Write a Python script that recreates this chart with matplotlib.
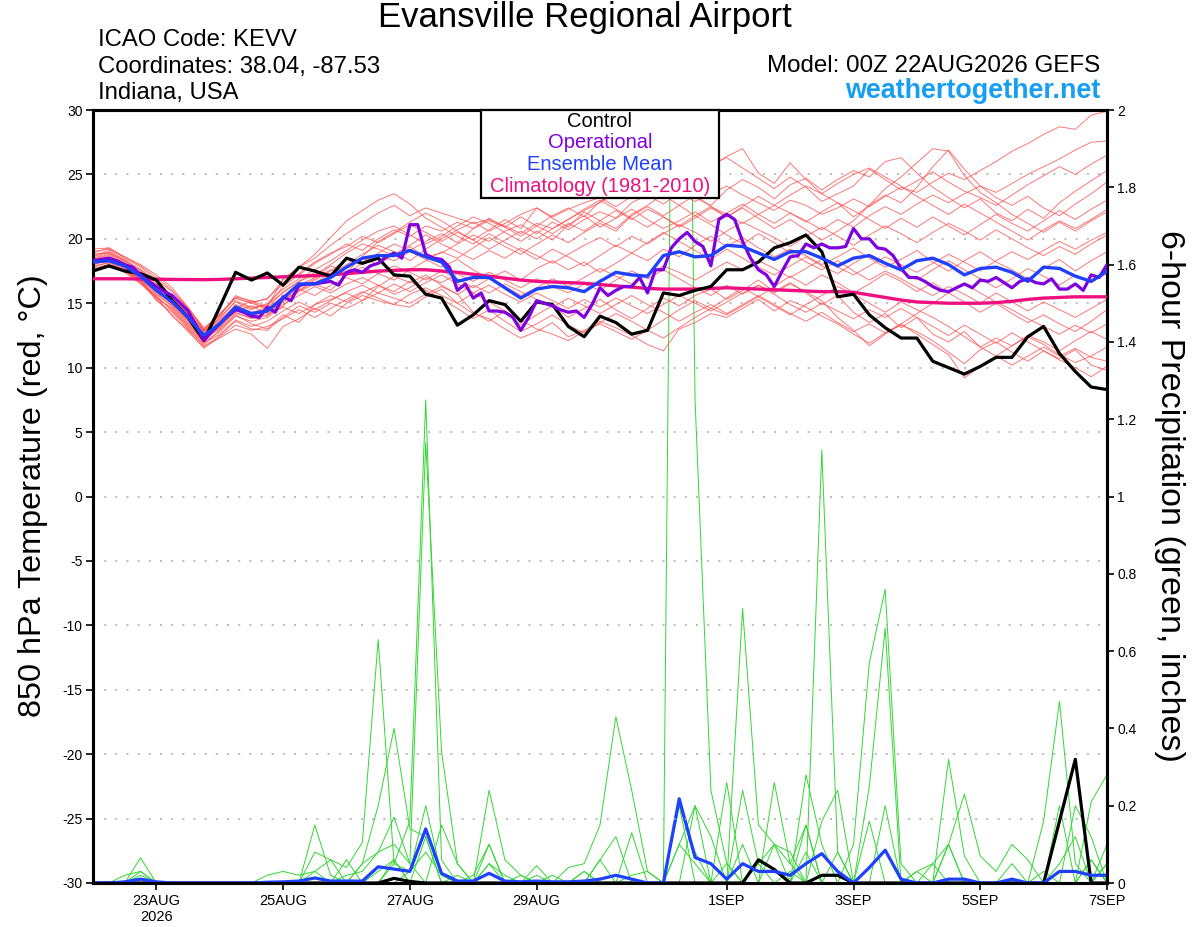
import matplotlib
matplotlib.use("Agg")
import matplotlib.pyplot as plt
from matplotlib.patches import Rectangle

plt.rcParams['font.family'] = ['Liberation Sans', 'DejaVu Sans']

# ---------------- data ----------------
HOURS_6H = list(range(0, 385, 6))     # forecast hour of each 6-hourly value
HOURS_3H = list(range(0, 385, 3))     # forecast hour of each 3-hourly value (operational)

TICK_HOURS = [24, 72, 120, 168, 240, 288, 336, 384]
TICK_LABELS = ["23AUG\n2026", "25AUG", "27AUG", "29AUG", "1SEP", "3SEP", "5SEP", "7SEP"]
TEMP_TICKS = [-30, -25, -20, -15, -10, -5, 0, 5, 10, 15, 20, 25, 30]
PCP_TICKS = [0, 0.2, 0.4, 0.6, 0.8, 1.0, 1.2, 1.4, 1.6, 1.8, 2.0]
PCP_TICK_LABELS = ["0", "0.2", "0.4", "0.6", "0.8", "1", "1.2", "1.4", "1.6", "1.8", "2"]

CONTROL_T = [17.5, 17.9, 17.5, 17.3, 16.8, 15.2, 13.9, 12.1, 14.7, 17.4, 16.8, 17.35, 16.4,
             17.8, 17.5, 17.1, 18.5, 18.1, 18.5, 17.2, 17.1, 15.7, 15.4, 13.3, 14.1, 15.2,
             14.9, 13.6, 15.1, 14.9, 13.2, 12.4, 14.0, 13.5, 12.6, 12.9, 15.8, 15.6, 16.0,
             16.3, 17.6, 17.6, 18.2, 19.3, 19.7, 20.3, 19.0, 15.5, 15.7, 14.1, 13.1, 12.3,
             12.3, 10.5, 10.0, 9.5, 10.1, 10.8, 10.8, 12.4, 13.2, 11.1, 9.7, 8.5, 8.3]

MEAN_T = [18.2, 18.3, 17.9, 17.1, 16.0, 15.1, 13.9, 12.5, 13.4, 14.7, 14.2, 14.4, 15.4,
          16.5, 16.5, 17.0, 17.8, 18.5, 18.7, 18.7, 19.1, 18.6, 18.2, 16.7, 17.0, 17.0,
          16.2, 15.4, 16.1, 16.3, 16.2, 15.9, 16.7, 17.4, 17.2, 17.1, 18.7, 19.0, 18.6,
          18.7, 19.5, 19.4, 18.9, 18.4, 19.0, 19.0, 18.5, 17.9, 18.5, 18.7, 18.1, 17.6,
          18.3, 18.5, 18.0, 17.2, 17.7, 17.8, 17.4, 16.7, 17.8, 17.7, 17.1, 16.7, 17.5]

CLIMO_T = [16.9, 16.9, 16.9, 16.88, 16.87, 16.85, 16.84, 16.83, 16.85, 16.9, 16.95, 17.0, 17.05,
           17.1, 17.15, 17.2, 17.3, 17.4, 17.5, 17.55, 17.6, 17.6, 17.5, 17.4, 17.25, 17.1,
           16.95, 16.8, 16.7, 16.65, 16.6, 16.55, 16.45, 16.35, 16.25, 16.15, 16.1, 16.1, 16.1,
           16.15, 16.2, 16.15, 16.1, 16.05, 16.0, 15.95, 15.9, 15.9, 15.85, 15.65, 15.45, 15.25,
           15.1, 15.05, 15.0, 15.0, 15.0, 15.05, 15.15, 15.3, 15.4, 15.45, 15.5, 15.5, 15.5]

OPER_T = [18.3, 18.4, 18.5, 18.3, 18.0, 17.8, 17.2, 16.7, 16.3, 15.9,
          15.6, 15.0, 14.4, 13.3, 12.1, 12.8, 13.4, 14.0, 14.5, 14.3,
          14.0, 13.9, 14.7, 14.3, 15.5, 15.2, 16.4, 16.5, 16.5, 16.6,
          16.7, 16.4, 17.4, 17.6, 17.4, 17.9, 18.1, 18.6, 18.9, 18.5,
          21.1, 21.1, 18.8, 18.5, 18.4, 17.8, 16.0, 16.5, 15.4, 15.8,
          14.4, 14.4, 14.3, 13.9, 12.9, 13.9, 15.2, 15.0, 14.8, 14.5,
          14.3, 14.4, 13.9, 14.9, 16.2, 15.6, 16.0, 16.3, 16.3, 17.0,
          15.8, 17.6, 17.6, 19.3, 20.0, 20.5, 19.8, 19.4, 17.9, 21.5,
          21.9, 21.5, 19.8, 18.5, 17.6, 17.2, 16.3, 17.5, 18.6, 18.7,
          19.6, 19.3, 19.6, 19.3, 19.3, 19.4, 20.8, 20.0, 20.0, 19.3,
          19.2, 18.7, 17.7, 17.0, 17.0, 16.7, 16.3, 16.0, 15.9, 16.2,
          16.5, 16.2, 16.8, 16.7, 17.0, 16.6, 16.2, 16.7, 16.9, 16.6,
          16.5, 16.9, 16.1, 16.1, 16.5, 16.0, 17.2, 17.0, 18.0]

# ensemble member 850 hPa temperatures
TEMP_M01 = [18.6, 19.0, 18.3, 17.6, 16.5, 15.4, 14.2, 12.8, 13.9, 15.1, 14.6, 14.9,
            15.8, 16.7, 17.2, 18.0, 18.9, 19.6, 19.2, 18.7, 19.4, 18.6,
            18.9, 19.6, 20.3, 19.8, 20.6, 21.1, 20.4, 21.3, 20.7, 21.5,
            22.1, 21.6, 22.8, 23.4, 22.7, 23.6, 22.9, 23.5, 24.1, 23.4, 22.8,
            22.2, 23.0, 22.6, 21.9, 22.4, 23.1, 22.5, 23.3, 24.0, 23.6, 24.4,
            25.1, 24.6, 25.3, 26.0, 26.8, 27.4, 28.1, 28.7, 28.5, 29.6, 29.9]
TEMP_M02 = [18.0, 18.4, 17.8, 16.9, 15.7, 14.8, 13.5, 12.2, 13.0, 14.2, 13.9, 14.3,
            15.2, 16.0, 16.8, 17.5, 18.4, 18.0, 18.9, 19.6, 19.1, 19.8,
            20.4, 19.7, 20.8, 21.4, 20.9, 20.2, 21.0, 21.8, 22.4, 21.7,
            22.9, 23.6, 25.0, 26.3, 27.0, 25.8, 24.9, 25.6, 26.4, 27.0, 25.1,
            24.3, 25.9, 24.6, 23.5, 22.8, 21.7, 22.6, 23.4, 22.8, 24.0, 25.6,
            26.9, 25.4, 24.1, 23.2, 22.6, 23.3, 22.4, 21.8, 22.7, 23.5, 24.4]
TEMP_M03 = [18.9, 19.3, 18.5, 17.8, 16.8, 15.9, 14.6, 12.9, 14.1, 15.4, 15.0, 14.6,
            15.5, 16.4, 17.0, 17.9, 17.4, 18.6, 19.8, 20.5, 21.3, 22.0,
            21.4, 20.6, 19.9, 20.7, 21.5, 20.8, 22.4, 21.6, 20.9, 22.1,
            21.4, 20.8, 21.9, 22.6, 23.5, 24.3, 23.2, 22.6, 23.8, 24.6, 24.0,
            23.1, 24.2, 24.7, 23.8, 24.6, 25.3, 24.8, 26.0, 26.3, 25.1, 24.0,
            23.2, 22.4, 23.1, 22.0, 21.4, 22.3, 21.6, 22.8, 23.7, 24.5, 25.3]
TEMP_M04 = [17.6, 17.9, 17.5, 16.7, 15.3, 14.1, 12.8, 11.6, 12.3, 13.0, 12.6, 11.5,
            13.2, 13.8, 14.6, 14.0, 15.0, 15.6, 15.2, 14.9, 14.7, 15.5,
            16.1, 15.0, 14.2, 13.8, 13.0, 12.3, 12.8, 13.5, 12.4, 12.9,
            13.6, 13.1, 12.5, 11.8, 11.3, 13.0, 13.5, 14.2, 13.9, 14.6, 15.3,
            14.4, 15.2, 14.7, 14.0, 13.4, 12.6, 11.9, 12.7, 13.3, 12.8, 12.1,
            11.2, 10.3, 11.4, 12.0, 11.2, 10.5, 11.3, 10.6, 10.0, 9.3, 10.1]
TEMP_M05 = [18.1, 18.5, 17.9, 16.8, 15.2, 14.3, 13.0, 11.8, 12.9, 14.1, 13.4, 13.0,
            14.1, 13.5, 14.9, 15.3, 15.8, 15.2, 16.3, 17.1, 16.6, 17.2,
            16.4, 15.7, 14.3, 13.6, 14.4, 13.3, 14.1, 14.8, 13.9, 14.6,
            15.3, 14.5, 13.8, 14.6, 15.4, 14.8, 15.6, 16.1, 15.3, 16.0, 16.8,
            15.9, 16.6, 15.8, 14.9, 15.6, 14.3, 13.5, 14.2, 13.1, 13.9, 12.6,
            12.0, 12.8, 11.6, 12.3, 11.7, 12.4, 11.8, 11.0, 10.4, 10.9, 11.6]
TEMP_M06 = [18.4, 18.8, 18.1, 17.4, 16.2, 15.0, 13.8, 12.6, 13.5, 14.6, 14.0, 14.5,
            15.6, 16.2, 16.9, 17.6, 17.1, 18.2, 18.7, 18.3, 19.0, 18.4,
            17.8, 18.4, 17.6, 16.9, 17.5, 16.8, 17.7, 18.3, 17.6, 18.2,
            17.4, 18.1, 18.9, 18.3, 19.2, 18.6, 19.5, 20.2, 19.4, 20.1, 19.3,
            18.6, 19.2, 18.7, 18.0, 18.6, 19.3, 18.5, 17.8, 18.4, 19.1, 18.2,
            17.5, 18.3, 19.0, 18.2, 17.6, 16.9, 17.7, 18.4, 17.5, 18.3, 19.0]
TEMP_M07 = [18.3, 18.6, 18.0, 17.2, 16.1, 15.2, 14.0, 12.7, 13.6, 14.9, 14.5, 15.0,
            16.1, 16.9, 17.6, 18.3, 19.1, 19.9, 20.6, 21.0, 20.3, 19.6,
            20.2, 21.0, 21.7, 21.2, 20.5, 19.8, 20.6, 19.9, 21.1, 21.8,
            20.9, 21.6, 22.3, 21.5, 20.8, 21.4, 22.1, 21.3, 22.0, 22.7, 21.9,
            21.2, 22.0, 21.4, 20.7, 21.5, 20.9, 21.8, 22.5, 21.9, 22.7, 23.4,
            22.8, 23.5, 24.1, 23.6, 24.3, 25.0, 25.6, 26.2, 26.9, 27.5, 27.6]
TEMP_M08 = [17.8, 18.2, 17.6, 16.6, 15.5, 14.5, 13.3, 12.0, 12.8, 14.0, 13.6, 13.9,
            14.8, 15.9, 16.5, 16.0, 17.2, 17.8, 17.3, 16.8, 17.6, 18.3,
            19.0, 18.5, 19.3, 20.1, 19.4, 18.8, 19.6, 20.3, 19.7, 20.5,
            21.2, 20.6, 21.8, 22.5, 21.8, 22.6, 23.4, 22.5, 21.7, 22.4, 21.6,
            20.8, 21.5, 20.7, 19.9, 20.6, 21.4, 22.6, 23.9, 24.8, 25.9, 27.0,
            26.8, 24.9, 23.6, 22.8, 21.9, 21.2, 20.5, 21.3, 20.6, 21.4, 22.1]
TEMP_M09 = [17.9, 18.1, 17.6, 16.9, 15.9, 14.9, 13.6, 12.3, 13.1, 14.4, 14.8, 14.2,
            14.9, 15.6, 16.3, 15.8, 16.5, 17.0, 16.4, 15.9, 16.7, 16.0,
            15.3, 14.6, 13.8, 14.5, 13.6, 12.8, 13.4, 14.1, 13.3, 12.7,
            13.5, 14.2, 13.6, 12.9, 13.7, 14.5, 15.2, 14.6, 15.4, 16.2, 15.5,
            16.3, 17.1, 16.4, 17.2, 16.6, 15.8, 16.5, 17.3, 16.7, 15.9, 16.6,
            15.8, 15.1, 14.3, 15.0, 14.2, 13.5, 14.1, 13.4, 12.8, 13.6, 14.5]
TEMP_M10 = [18.7, 19.1, 18.4, 17.5, 16.4, 15.3, 14.1, 12.9, 13.8, 15.2, 14.7, 14.8,
            16.3, 17.2, 18.1, 18.8, 19.6, 19.1, 20.0, 20.7, 20.2, 21.0,
            20.6, 21.3, 20.8, 21.6, 20.9, 21.7, 21.0, 20.4, 21.2, 20.6,
            21.4, 22.2, 21.5, 22.3, 21.7, 21.0, 21.8, 22.5, 21.9, 21.2, 21.9,
            22.6, 22.0, 21.3, 22.1, 22.8, 22.2, 21.5, 20.8, 21.6, 20.9, 21.7,
            21.0, 20.3, 21.1, 21.9, 21.2, 20.6, 21.4, 22.2, 21.5, 22.3, 23.0]
TEMP_M11 = [17.7, 18.0, 17.4, 16.5, 15.4, 14.6, 13.2, 11.9, 12.6, 13.7, 13.2, 13.6,
            14.4, 15.1, 14.5, 15.2, 15.9, 16.4, 15.8, 16.5, 15.9, 16.6,
            17.2, 16.5, 15.8, 16.4, 15.7, 15.1, 15.8, 15.2, 14.6, 15.3,
            14.7, 15.4, 14.8, 14.2, 14.9, 15.6, 15.0, 14.4, 15.1, 15.8, 16.4,
            15.7, 14.9, 14.3, 15.0, 14.4, 13.8, 14.5, 13.9, 14.6, 13.9, 13.2,
            12.5, 13.3, 12.6, 11.9, 12.7, 12.0, 11.3, 10.7, 11.4, 10.2, 9.8]
TEMP_M12 = [18.5, 18.9, 18.2, 17.3, 16.0, 15.0, 13.7, 12.4, 13.3, 14.6, 15.2, 14.4,
            15.1, 16.0, 16.6, 17.3, 18.0, 18.8, 19.5, 19.0, 18.3, 19.2,
            20.0, 20.7, 21.3, 20.6, 21.2, 21.9, 22.4, 21.7, 22.3, 22.8,
            23.2, 22.5, 23.3, 24.1, 23.4, 22.6, 21.8, 21.1, 20.3, 19.6, 20.4,
            19.7, 18.9, 18.2, 17.6, 18.3, 17.5, 16.8, 17.5, 16.9, 16.2, 15.6,
            16.3, 15.7, 15.0, 15.8, 15.1, 14.4, 15.1, 14.5, 13.9, 14.6, 15.3]
TEMP_M13 = [18.2, 18.5, 17.7, 16.8, 15.8, 14.7, 13.4, 12.1, 13.2, 14.5, 14.1, 14.0,
            15.3, 16.1, 15.6, 16.4, 17.0, 16.5, 17.3, 17.9, 17.4, 16.8,
            17.5, 16.9, 16.2, 16.9, 16.3, 15.6, 16.2, 16.9, 16.3, 17.0,
            17.7, 17.1, 16.5, 17.2, 17.9, 17.4, 16.8, 17.5, 18.2, 17.6, 18.3,
            17.7, 17.0, 17.7, 18.4, 17.8, 17.2, 17.9, 18.6, 18.0, 17.4, 18.1,
            18.8, 18.2, 17.5, 18.3, 19.0, 18.4, 19.1, 19.8, 19.2, 19.9, 20.5]
TEMP_M14 = [19.2, 19.3, 18.6, 18.0, 17.2, 16.2, 14.7, 13.0, 14.0, 15.6, 15.1, 15.3,
            16.8, 17.8, 18.5, 19.5, 20.4, 21.2, 22.0, 22.6, 21.8, 22.4,
            22.0, 21.6, 21.2, 21.5, 21.0, 20.4, 21.2, 20.8, 21.5, 22.2,
            22.8, 23.6, 24.5, 25.6, 26.4, 25.9, 26.6, 25.8, 26.3, 25.5, 24.7,
            23.9, 24.8, 24.0, 22.9, 23.5, 24.1, 25.4, 24.6, 23.8, 24.5, 25.2,
            24.4, 23.7, 23.2, 22.6, 23.4, 24.2, 24.9, 25.6, 25.0, 25.8, 26.5]
TEMP_M15 = [18.0, 18.3, 17.7, 17.0, 16.1, 14.9, 13.9, 12.6, 13.4, 14.3, 13.8, 14.1,
            14.7, 14.2, 14.9, 15.6, 15.1, 15.8, 16.4, 15.7, 16.2, 17.0,
            16.6, 17.3, 16.7, 17.4, 16.8, 16.2, 16.9, 16.3, 15.8, 16.5,
            16.0, 16.8, 17.5, 16.9, 17.6, 16.9, 16.2, 15.6, 16.4, 15.7, 16.4,
            15.8, 16.5, 15.9, 15.2, 13.9, 12.9, 11.7, 12.6, 13.4, 14.2, 15.0,
            15.8, 16.5, 15.8, 15.1, 14.5, 13.8, 13.2, 12.6, 13.3, 12.7, 13.4]
TEMP_M16 = [18.8, 18.9, 18.3, 17.6, 16.7, 15.6, 14.4, 12.9, 14.2, 15.4, 15.0, 15.4,
            16.5, 17.3, 18.2, 18.9, 19.4, 20.2, 19.7, 20.4, 21.1, 20.5,
            19.8, 20.5, 19.9, 19.2, 19.9, 20.6, 20.0, 20.8, 21.5, 22.3,
            23.0, 22.3, 21.6, 20.9, 21.7, 20.9, 21.6, 22.4, 21.7, 22.5, 23.3,
            22.6, 23.4, 24.1, 23.5, 24.3, 25.0, 25.5, 24.8, 24.1, 23.3, 22.6,
            21.9, 22.7, 22.0, 21.3, 20.6, 19.9, 20.7, 21.4, 20.8, 21.5, 22.3]
TEMP_M17 = [17.5, 17.8, 17.5, 16.6, 15.6, 14.4, 13.1, 11.7, 12.4, 13.3, 12.9, 13.2,
            13.8, 14.5, 13.9, 14.6, 15.3, 15.9, 15.4, 14.9, 15.7, 16.2,
            15.6, 15.0, 15.8, 15.1, 14.4, 13.7, 13.0, 12.6, 12.1, 12.8,
            13.4, 12.8, 12.2, 12.9, 12.3, 13.1, 13.9, 14.6, 14.1, 14.8, 15.5,
            14.8, 14.1, 14.9, 15.6, 16.3, 15.7, 15.0, 14.3, 15.1, 14.5, 13.9,
            13.2, 12.4, 11.6, 10.9, 11.7, 12.5, 12.0, 11.3, 12.1, 12.8, 12.2]
TEMP_M18 = [18.4, 18.7, 18.0, 17.1, 16.3, 15.3, 14.2, 12.8, 13.7, 14.8, 14.3, 14.6,
            15.9, 16.7, 17.4, 16.9, 17.8, 18.5, 18.0, 18.8, 19.5, 20.3,
            19.6, 19.0, 18.4, 19.1, 18.5, 19.3, 18.7, 18.1, 18.8, 19.5,
            20.1, 19.4, 20.2, 19.6, 20.4, 21.1, 20.5, 19.8, 20.6, 21.3, 20.7,
            20.1, 19.4, 20.2, 20.9, 20.2, 19.5, 20.3, 21.0, 20.4, 19.7, 20.5,
            21.2, 20.6, 19.9, 20.7, 20.0, 19.3, 18.7, 19.4, 18.8, 19.6, 20.3]
TEMP_M19 = [19.0, 19.2, 18.6, 17.9, 17.0, 16.0, 14.6, 13.1, 14.1, 15.5, 15.2, 14.7,
            16.9, 17.8, 18.8, 20.1, 21.4, 22.2, 23.0, 23.5, 22.7, 21.6,
            20.9, 20.2, 19.6, 20.4, 19.7, 19.1, 18.4, 19.2, 18.6, 17.9,
            18.7, 19.5, 18.9, 19.7, 20.5, 19.8, 19.1, 18.4, 19.2, 18.5, 17.8,
            17.2, 17.9, 18.6, 17.9, 17.3, 18.1, 18.8, 18.2, 17.5, 16.8, 17.6,
            18.3, 17.6, 16.9, 16.2, 16.9, 17.7, 17.1, 16.4, 17.2, 16.6, 17.3]
TEMP_M20 = [17.6, 18.0, 17.6, 16.8, 15.5, 14.0, 12.9, 11.5, 12.5, 13.6, 13.0, 12.9,
            13.9, 14.8, 14.3, 15.0, 14.6, 15.2, 15.8, 15.4, 15.0, 15.7,
            16.3, 15.7, 16.4, 15.8, 16.5, 15.9, 15.3, 14.7, 15.4, 14.8,
            14.2, 14.9, 15.6, 14.9, 14.3, 13.6, 14.3, 14.9, 14.2, 14.9, 15.6,
            14.9, 14.2, 13.6, 14.3, 13.5, 12.8, 13.4, 12.7, 13.4, 12.6, 11.8,
            11.0, 9.2, 10.1, 10.9, 10.2, 10.9, 11.6, 10.9, 11.5, 10.8, 10.5]

# 6-hour precipitation (inches)
CONTROL_P = [0, 0, 0, 0, 0, 0, 0, 0, 0, 0, 0, 0, 0,
             0, 0, 0, 0, 0, 0, 0.012, 0.004, 0, 0, 0, 0, 0,
             0, 0, 0, 0, 0, 0, 0, 0, 0, 0, 0, 0, 0,
             0, 0, 0, 0.06, 0.035, 0, 0, 0.02, 0.02, 0, 0, 0, 0,
             0, 0, 0, 0, 0, 0, 0, 0, 0, 0.16, 0.32, 0, 0]
MEAN_P = [0, 0, 0.003, 0.01, 0.003, 0, 0, 0, 0, 0, 0, 0.002, 0.003,
          0.005, 0.013, 0.005, 0.005, 0.005, 0.042, 0.036, 0.03, 0.14, 0.025, 0.005, 0.005, 0.025,
          0.005, 0.003, 0.005, 0.003, 0.003, 0.005, 0.01, 0.02, 0.01, 0, 0, 0.218, 0.066,
          0.05, 0.01, 0.05, 0.03, 0.03, 0.02, 0.05, 0.076, 0.03, 0, 0.04, 0.085, 0.01,
          0, 0, 0.01, 0.01, 0, 0, 0.01, 0, 0, 0.03, 0.03, 0.02, 0.02]

PCP_M01 = [0, 0, 0, 0, 0, 0, 0, 0, 0, 0, 0, 0, 0,
           0, 0, 0, 0, 0, 0, 0, 0.03, 0.08, 0.02, 0, 0, 0,
           0, 0, 0, 0, 0, 0, 0, 0, 0.02, 0.03, 0, 4.3, 1.25,
           0.24, 0.05, 0, 0, 0, 0, 0, 0, 0, 0, 0, 0, 0,
           0, 0, 0, 0, 0, 0, 0, 0, 0, 0, 0, 0, 0]
PCP_M02 = [0, 0, 0, 0.02, 0, 0, 0, 0, 0, 0, 0, 0, 0,
           0, 0, 0, 0, 0, 0, 0.05, 0.16, 1.25, 0.06, 0, 0, 0,
           0, 0, 0, 0, 0, 0, 0.06, 0.12, 0, 0, 0, 0.1, 0.05,
           0, 0, 0.24, 0.05, 0, 0, 0, 0, 0, 0, 0, 0, 0,
           0, 0, 0.1, 0, 0, 0, 0, 0, 0, 0, 0, 0, 0]
PCP_M03 = [0, 0, 0, 0, 0, 0, 0, 0, 0, 0, 0, 0, 0,
           0, 0, 0, 0.02, 0.03, 0.08, 0.1, 0.05, 1.14, 0.34, 0.05, 0, 0,
           0, 0, 0, 0, 0, 0.03, 0, 0, 0, 0, 0, 0, 0.2,
           0.12, 0, 0, 0, 0.26, 0.05, 0, 0, 0, 0, 0, 0, 0,
           0, 0, 0, 0, 0, 0, 0, 0, 0, 0, 0, 0, 0.05]
PCP_M04 = [0, 0, 0, 0, 0, 0, 0, 0, 0, 0, 0, 0, 0,
           0, 0.03, 0.06, 0.04, 0.105, 0.63, 0.05, 0.03, 0.2, 0.02, 0, 0, 0,
           0, 0, 0.045, 0, 0, 0, 0, 0, 0, 0, 0, 0, 0,
           0, 0, 0, 0, 0, 0, 0.28, 0.1, 0, 0, 0, 0, 0,
           0, 0, 0, 0, 0, 0, 0, 0, 0, 0, 0, 0.06, 0]
PCP_M05 = [0, 0, 0, 0, 0, 0, 0, 0, 0, 0, 0, 0, 0,
           0, 0, 0, 0, 0.05, 0.2, 0.4, 0.14, 0.12, 0, 0, 0, 0.05,
           0.02, 0, 0, 0, 0, 0, 0, 0, 0.13, 0, 0, 0, 0,
           0, 0, 0.1, 0, 0, 0, 0, 1.12, 0.08, 0, 0, 0, 0,
           0, 0, 0, 0, 0, 0, 0, 0, 0, 0, 0, 0, 0]
PCP_M06 = [0, 0, 0, 0, 0, 0, 0, 0, 0, 0, 0, 0, 0,
           0, 0.15, 0.02, 0, 0, 0, 0.06, 0, 0, 0.15, 0.05, 0, 0.24,
           0.06, 0.02, 0, 0, 0, 0, 0, 0, 0, 0, 0, 0, 0,
           0, 0, 0, 0, 0, 0, 0.15, 0, 0, 0, 0, 0, 0,
           0, 0, 0, 0, 0, 0, 0, 0, 0, 0, 0.2, 0.12, 0]
PCP_M07 = [0, 0, 0, 0.065, 0, 0, 0, 0, 0, 0, 0, 0, 0,
           0, 0.08, 0.06, 0, 0, 0, 0, 0, 0, 0, 0, 0, 0.1,
           0, 0, 0, 0, 0.04, 0.05, 0.15, 0.43, 0.24, 0.03, 0, 0, 0,
           0, 0.26, 0, 0, 0, 0, 0, 0.16, 0.24, 0, 0, 0, 0,
           0, 0, 0, 0, 0, 0, 0, 0, 0, 0, 0, 0, 0]
PCP_M08 = [0, 0, 0, 0, 0, 0, 0, 0, 0, 0, 0, 0, 0,
           0, 0, 0, 0, 0, 0, 0, 0, 0, 0, 0, 0, 0,
           0, 0, 0, 0, 0, 0, 0, 0, 0, 0, 0, 0.2, 0.08,
           0, 0, 0.71, 0.15, 0.1, 0, 0, 0, 0, 0, 0, 0, 0,
           0, 0, 0.32, 0.07, 0, 0, 0, 0, 0, 0, 0, 0, 0]
PCP_M09 = [0, 0, 0, 0, 0, 0, 0, 0, 0, 0, 0, 0, 0,
           0, 0, 0, 0, 0, 0, 0, 0, 0, 0, 0.02, 0, 0,
           0, 0, 0, 0, 0, 0, 0, 0, 0, 0, 0, 0, 0,
           0, 0, 0, 0, 0, 0, 0, 0, 0, 0.1, 0.57, 0.76, 0.05,
           0, 0, 0, 0, 0, 0, 0, 0, 0, 0, 0, 0, 0]
PCP_M10 = [0, 0, 0, 0, 0, 0, 0, 0, 0, 0, 0, 0, 0,
           0, 0, 0, 0, 0, 0, 0, 0, 0.12, 0, 0, 0, 0,
           0, 0, 0, 0, 0, 0, 0, 0, 0, 0, 0, 0, 0,
           0, 0, 0, 0, 0, 0, 0, 0, 0, 0, 0.25, 0.66, 0,
           0, 0, 0, 0, 0, 0, 0, 0, 0, 0, 0, 0, 0]
PCP_M11 = [0, 0, 0, 0, 0, 0, 0, 0, 0, 0, 0, 0, 0,
           0, 0, 0, 0, 0, 0, 0, 0, 0, 0, 0, 0, 0,
           0, 0, 0, 0, 0, 0, 0, 0, 0, 0, 0, 0.2, 0,
           0, 0, 0, 0, 0, 0, 0, 0, 0, 0, 0, 0, 0,
           0, 0, 0, 0, 0, 0, 0, 0, 0.16, 0.47, 0.05, 0, 0]
PCP_M12 = [0, 0, 0, 0, 0, 0, 0, 0, 0, 0, 0, 0, 0,
           0, 0, 0, 0, 0, 0, 0, 0, 0, 0, 0, 0, 0,
           0, 0, 0, 0, 0, 0, 0, 0, 0, 0, 0, 0, 0,
           0, 0, 0, 0, 0, 0, 0, 0, 0, 0, 0, 0, 0,
           0, 0.05, 0.1, 0.23, 0.07, 0.03, 0.1, 0.06, 0, 0, 0, 0.21, 0.28]
PCP_M13 = [0, 0, 0.02, 0.03, 0, 0, 0, 0, 0, 0, 0, 0.02, 0.03,
           0.02, 0.03, 0, 0, 0.05, 0.08, 0.17, 0.05, 0, 0, 0, 0, 0,
           0, 0, 0, 0, 0, 0, 0, 0, 0, 0, 0, 0, 0,
           0, 0, 0, 0, 0.1, 0.08, 0, 0, 0, 0, 0, 0, 0,
           0, 0, 0, 0, 0, 0, 0, 0, 0, 0, 0, 0, 0.1]
PCP_M14 = [0, 0, 0, 0, 0, 0, 0, 0, 0, 0, 0, 0, 0,
           0, 0, 0, 0, 0, 0, 0, 0, 0, 0, 0, 0, 0,
           0, 0, 0, 0, 0, 0, 0, 0, 0, 0, 0, 0.1, 0.2,
           0, 0, 0, 0.05, 0.1, 0.05, 0.15, 0, 0, 0, 0, 0.2, 0,
           0.03, 0, 0, 0, 0, 0, 0.05, 0, 0, 0.2, 0, 0, 0]
PCP_M15 = [0, 0, 0, 0, 0, 0, 0, 0, 0, 0, 0, 0, 0,
           0, 0, 0, 0, 0, 0, 0, 0, 0, 0, 0, 0.02, 0.1,
           0, 0.02, 0, 0.02, 0, 0.03, 0, 0, 0, 0, 0, 0, 0,
           0, 0, 0, 0, 0, 0, 0.08, 0, 0, 0, 0.16, 0, 0,
           0, 0, 0, 0, 0, 0, 0, 0, 0, 0, 0, 0, 0]
PCP_M16 = [0, 0, 0, 0, 0, 0, 0, 0, 0, 0, 0, 0, 0,
           0, 0, 0, 0, 0, 0, 0, 0, 0, 0, 0, 0, 0,
           0, 0, 0.02, 0, 0, 0, 0.06, 0, 0, 0, 0, 0, 0,
           0, 0, 0, 0, 0, 0, 0, 0, 0, 0, 0, 0, 0,
           0.03, 0.05, 0, 0, 0, 0, 0, 0, 0, 0, 0, 0, 0.05]
PCP_M17 = [0, 0, 0, 0.03, 0, 0, 0, 0, 0, 0, 0, 0, 0,
           0, 0, 0, 0, 0, 0.03, 0.06, 0, 0, 0, 0, 0, 0,
           0, 0, 0, 0, 0, 0, 0, 0, 0, 0, 0, 0, 0,
           0, 0, 0, 0, 0, 0, 0, 0, 0, 0, 0, 0, 0,
           0, 0, 0, 0, 0, 0, 0, 0, 0, 0, 0, 0.06, 0]
PCP_M18 = [0, 0, 0, 0, 0, 0, 0, 0, 0, 0, 0, 0, 0,
           0, 0, 0, 0, 0, 0, 0, 0, 0, 0, 0, 0, 0.05,
           0, 0, 0, 0, 0, 0, 0, 0, 0, 0, 0, 0, 0,
           0, 0.05, 0, 0, 0, 0.03, 0, 0, 0, 0, 0, 0, 0,
           0, 0, 0, 0, 0, 0, 0, 0, 0, 0, 0, 0, 0]
PCP_M19 = [0, 0, 0, 0, 0, 0, 0, 0, 0, 0, 0, 0, 0,
           0, 0, 0, 0, 0, 0, 0, 0, 0, 0, 0, 0, 0,
           0, 0, 0, 0, 0, 0, 0, 0, 0, 0, 0, 0, 0,
           0, 0, 0, 0, 0, 0, 0, 0, 0.08, 0, 0, 0, 0,
           0, 0, 0.1, 0, 0, 0, 0, 0, 0.03, 0, 0, 0, 0]
PCP_M20 = [0, 0, 0, 0, 0, 0, 0, 0, 0, 0, 0, 0, 0,
           0, 0, 0, 0.06, 0, 0, 0, 0, 0, 0, 0, 0, 0,
           0, 0, 0, 0, 0, 0, 0, 0, 0, 0, 0, 0, 0,
           0, 0, 0, 0, 0, 0, 0, 0, 0, 0, 0, 0, 0,
           0, 0, 0, 0, 0, 0, 0, 0, 0, 0.05, 0.12, 0, 0]

TEMP_MEMBERS = [TEMP_M01, TEMP_M02, TEMP_M03, TEMP_M04, TEMP_M05, TEMP_M06, TEMP_M07,
                TEMP_M08, TEMP_M09, TEMP_M10, TEMP_M11, TEMP_M12, TEMP_M13, TEMP_M14,
                TEMP_M15, TEMP_M16, TEMP_M17, TEMP_M18, TEMP_M19, TEMP_M20]
PCP_MEMBERS = [PCP_M01, PCP_M02, PCP_M03, PCP_M04, PCP_M05, PCP_M06, PCP_M07,
               PCP_M08, PCP_M09, PCP_M10, PCP_M11, PCP_M12, PCP_M13, PCP_M14,
               PCP_M15, PCP_M16, PCP_M17, PCP_M18, PCP_M19, PCP_M20]

LEGEND_LABELS = ["Control", "Operational", "Ensemble Mean", "Climatology (1981-2010)"]

# ---------------- styles ----------------
RED = '#ff4a4a'
GREEN = '#33d633'
C_CONTROL = '#000000'
C_OPER = '#7f00df'
C_MEAN = '#2040ff'
C_CLIMO = '#ee1080'
C_WEB = '#169ff2'
LEGEND_COLORS = [C_CONTROL, C_OPER, C_MEAN, C_CLIMO]

W, H = 1200, 927
fig = plt.figure(figsize=(W / 100, H / 100), dpi=100)
fig.patch.set_facecolor('white')


def fx(x):
    return x / W


def fy(y):
    return 1 - y / H


L, R, T, B = 93, 1107, 110, 883
ax = fig.add_axes([fx(L), fy(B), (R - L) / W, (B - T) / H])
ax2 = ax.twinx()
ax.set_zorder(2)
ax.patch.set_visible(False)
ax2.set_zorder(1)

# precipitation (right axis)
for p in PCP_MEMBERS:
    ax2.plot(HOURS_6H, p, color=GREEN, lw=0.7, zorder=2)
ax2.plot(HOURS_6H, CONTROL_P, color=C_CONTROL, lw=2.3, zorder=3)
ax2.plot(HOURS_6H, MEAN_P, color=C_MEAN, lw=2.3, zorder=4)

# temperature (left axis)
for t in TEMP_MEMBERS:
    ax.plot(HOURS_6H, t, color=RED, lw=0.65, alpha=0.8, zorder=2)
ax.plot(HOURS_6H, CLIMO_T, color=C_CLIMO, lw=2.4, zorder=3)
ax.plot(HOURS_6H, CONTROL_T, color=C_CONTROL, lw=2.3, zorder=4)
ax.plot(HOURS_3H, OPER_T, color=C_OPER, lw=2.3, zorder=5)
ax.plot(HOURS_6H, MEAN_T, color=C_MEAN, lw=2.4, zorder=6)

ax.set_xlim(0, 384)
ax.set_ylim(-30, 30)
ax2.set_ylim(0, 2)

ax.set_yticks(TEMP_TICKS)
ax.set_yticklabels([str(v) for v in TEMP_TICKS])
ax2.set_yticks(PCP_TICKS)
ax2.set_yticklabels(PCP_TICK_LABELS)
ax.set_xticks(TICK_HOURS)
ax.set_xticklabels(TICK_LABELS)

ax.yaxis.grid(True, color='#b0b0b0', linestyle=(0, (1.2, 5.5)), linewidth=1.2, zorder=1)

ax.tick_params(axis='y', direction='out', length=5, width=1.2, labelsize=10, pad=2.5)
ax.tick_params(axis='x', direction='out', length=5, width=1.2, labelsize=10.5, pad=3)
ax2.tick_params(axis='y', direction='out', length=5, width=1.2, labelsize=10, pad=2.5)

for a in (ax, ax2):
    for s in a.spines.values():
        s.set_linewidth(2.2)
        s.set_color('black')

# ---------------- text ----------------
fig.text(fx(585), fy(27.5), "Evansville Regional Airport", ha='center', va='baseline',
         fontsize=25)
fig.text(fx(98), fy(46.5), "ICAO Code: KEVV", ha='left', va='baseline', fontsize=17.2)
fig.text(fx(98), fy(73), "Coordinates: 38.04, -87.53", ha='left', va='baseline', fontsize=17.2)
fig.text(fx(98), fy(98.5), "Indiana, USA", ha='left', va='baseline', fontsize=17.2)
fig.text(fx(1100), fy(72), "Model: 00Z 22AUG2026 GEFS", ha='right', va='baseline',
         fontsize=17.4)
fig.text(fx(1100), fy(98), "weathertogether.net", ha='right', va='baseline', fontsize=19.4,
         fontweight='bold', color=C_WEB)

fig.text(fx(33), fy(496), "850 hPa Temperature (red, °C)", rotation=90, ha='center',
         va='center', fontsize=23.3)
fig.text(fx(1170), fy(496), "6-hour Precipitation (green, inches)", rotation=270,
         ha='center', va='center', fontsize=24.5)

# legend box
box = Rectangle((fx(481), fy(198)), (719 - 481) / W, (198 - 110) / H,
                transform=fig.transFigure, facecolor='white', edgecolor='black',
                linewidth=1.6, zorder=5)
fig.add_artist(box)
legend_baselines = [126.5, 148.3, 170, 191.7]
for lab, col, yb in zip(LEGEND_LABELS, LEGEND_COLORS, legend_baselines):
    fig.text(fx(600), fy(yb), lab, color=col, ha='center', va='baseline', fontsize=14.5,
             zorder=6)

fig.savefig('out.png', dpi=100, facecolor='white')
